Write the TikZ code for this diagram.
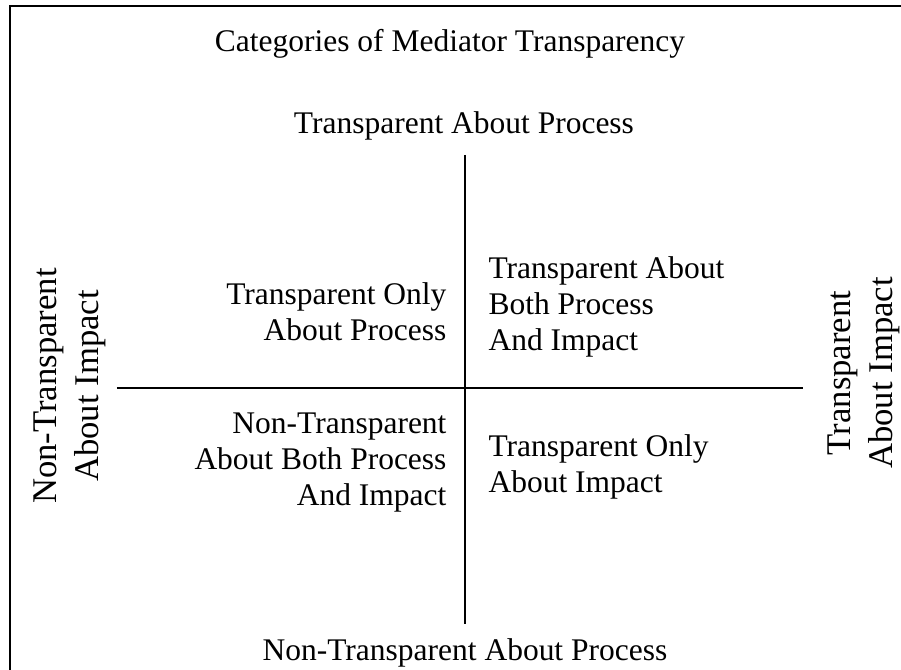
\documentclass[tikz,border=0pt]{standalone}
\usepackage{fontspec}
\setmainfont{Liberation Serif}
\usepackage{tikz}

\begin{document}
\begin{tikzpicture}[x=.381pt, y=-.381pt,
  txt/.style={inner sep=0, font=\fontsize{12}{13.7}\selectfont},
  side/.style={inner sep=0, rotate=90, align=center, font=\fontsize{13.2}{16}\selectfont}]
\useasboundingbox (0,0) rectangle (901,670);
\draw[line width=1pt] (10,670) -- (10,6) -- (901,6);
\node[txt, anchor=base] (title) at (450,52) {Categories of Mediator Transparency};
\node[txt, anchor=base] (top) at (464,134) {Transparent About Process};
\node[txt, anchor=base] (bottom) at (465,661) {Non-Transparent About Process};
\node[side] (left) at (70,386) {Non-Transparent\\About Impact};
\node[side] (right) at (864,373) {Transparent\\About Impact};
% the two axes
\coordinate (n) at (465,155); \coordinate (s) at (465,624);
\coordinate (w) at (117,388); \coordinate (e) at (803,388);
\draw[line width=.8pt] (n) -- (s);
\draw[line width=.8pt] (w) -- (e);
% the four quadrants
\node[txt, align=right, anchor=east] (ul) at (447,312) {Transparent Only\\About Process};
\node[txt, align=left, anchor=west] (ur) at (488,307) {Transparent About\\Both Process\\And Impact};
\node[txt, align=right, anchor=east] (ll) at (447,463) {Non-Transparent\\About Both Process\\And Impact};
\node[txt, align=left, anchor=west] (lr) at (488,467) {Transparent Only\\About Impact};
\end{tikzpicture}
\end{document}
